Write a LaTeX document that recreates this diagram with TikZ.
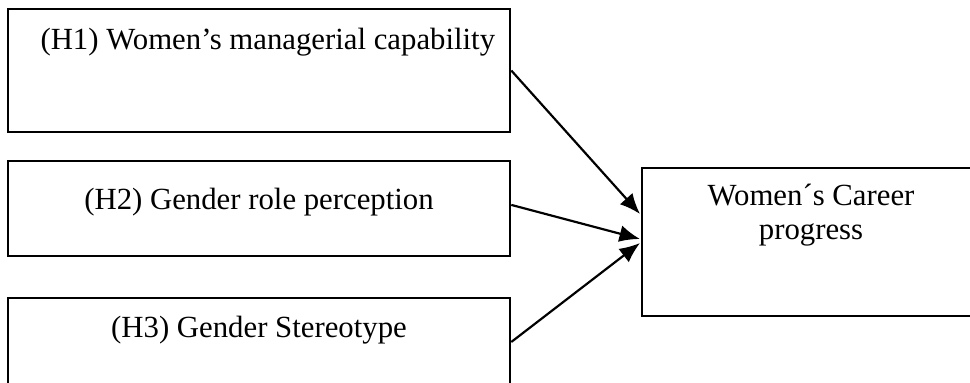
\documentclass[tikz,border=0pt]{standalone}
\usepackage{fontspec}
\setmainfont{Liberation Serif}
\usetikzlibrary{arrows.meta,fit}
\begin{document}
\begin{tikzpicture}[x=0.39pt,y=-0.39pt,
  box/.style={draw, line width=1pt, inner sep=0pt},
  lbl/.style={inner sep=0pt, font=\fontsize{12}{14}\selectfont},
  arr/.style={-{Latex[length=8pt,width=6.6pt]}, line width=0.85pt}]
\clip (0,0) rectangle (970,383);
\fill[white] (0,0) rectangle (970,383);
% boxes
\node[box, fit={(8,9) (510,132)}] (h1) {};
\node[box, fit={(8,161) (510,256)}] (h2) {};
\node[box, fit={(8,298) (510,386)}] (h3) {};
\node[box, fit={(642,168) (1000,316)}] (tgt) {};
% labels
\node[lbl, anchor=base west] (t1) at (40,50) {(H1) Women’s managerial capability};
\node[lbl, anchor=base] (t2) at (259,210) {(H2) Gender role perception};
\node[lbl, anchor=base] (t3) at (259,338) {(H3) Gender Stereotype};
\node[lbl, anchor=base] (ta) at (811,206) {Women´s Career};
\node[lbl, anchor=base] (tb) at (811,240) {progress};
% arrow ends
\coordinate (e1) at (640,214);
\coordinate (e2) at (640,239);
\coordinate (e3) at (640,243);
\draw[arr] (h1.east) -- (e1);
\draw[arr] ([yshift=1.4pt]h2.east) -- (e2);
\draw[arr] (h3.east) -- (e3);
\end{tikzpicture}
\end{document}
